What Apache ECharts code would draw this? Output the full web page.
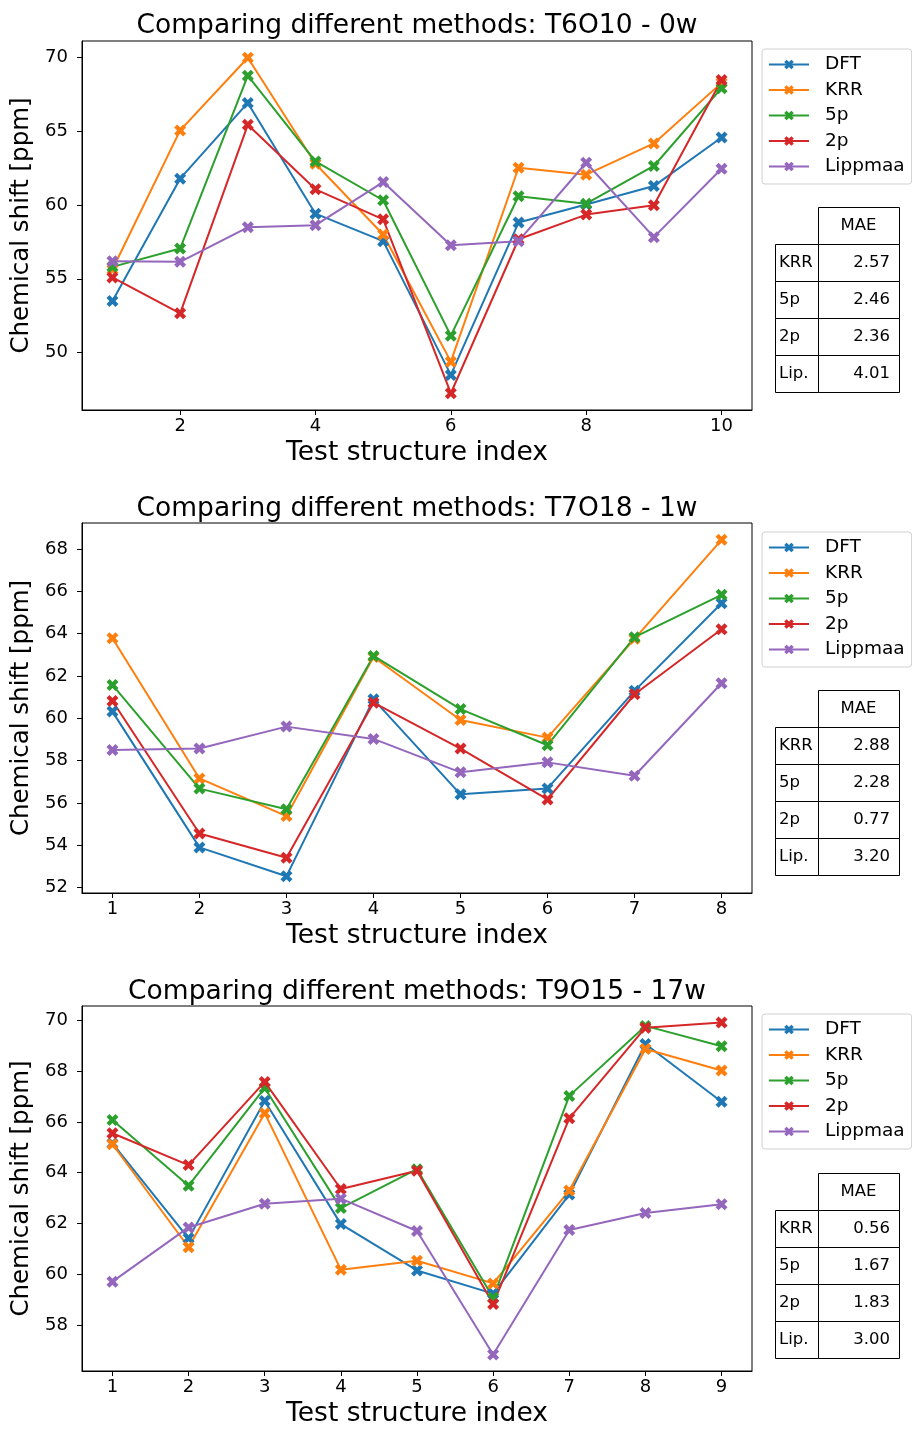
<!DOCTYPE html>
<html><head><meta charset="utf-8">
<script src="https://cdn.jsdelivr.net/npm/echarts@6/dist/echarts.min.js"></script>
<style>html,body{margin:0;padding:0;background:#fff}#c{width:912px;height:1429px}</style>
</head><body><div id="c"></div>
<script>
// ---------- data ----------
const methods = ['DFT', 'KRR', '5p', '2p', 'Lippmaa'];
const titles = [
  'Comparing different methods: T6O10 - 0w',
  'Comparing different methods: T7O18 - 1w',
  'Comparing different methods: T9O15 - 17w'
];
const xLabel = 'Test structure index';
const yLabel = 'Chemical shift [ppm]';

// Panel 1: T6O10 - 0w
const idx1 = [1, 2, 3, 4, 5, 6, 7, 8, 9, 10];
const dft1 = [53.49, 61.78, 66.91, 59.41, 57.55, 48.49, 58.81, 60.03, 61.28, 64.57];
const krr1 = [55.63, 65.05, 69.97, 62.79, 58.00, 49.39, 62.52, 62.05, 64.17, 68.27];
const p5_1 = [55.81, 57.05, 68.76, 62.95, 60.32, 51.15, 60.59, 60.09, 62.64, 67.91];
const p2_1 = [55.09, 52.66, 65.43, 61.06, 59.03, 47.25, 57.68, 59.35, 59.98, 68.47];
const lip1 = [56.19, 56.15, 58.49, 58.63, 61.55, 57.27, 57.55, 62.86, 57.82, 62.45];
const xTicks1 = [2, 4, 6, 8, 10];
const yTicks1 = [50, 55, 60, 65, 70];
const mae1 = ['2.57', '2.46', '2.36', '4.01'];

// Panel 2: T7O18 - 1w
const idx2 = [1, 2, 3, 4, 5, 6, 7, 8];
const dft2 = [60.32, 53.90, 52.54, 60.90, 56.41, 56.69, 61.30, 65.44];
const krr2 = [63.79, 57.16, 55.38, 62.90, 59.92, 59.09, 63.76, 68.44];
const p5_2 = [61.58, 56.68, 55.70, 62.95, 60.44, 58.73, 63.84, 65.84];
const p2_2 = [60.82, 54.56, 53.41, 60.74, 58.57, 56.17, 61.14, 64.21];
const lip2 = [58.50, 58.58, 59.61, 59.03, 57.45, 57.92, 57.29, 61.66];
const xTicks2 = [1, 2, 3, 4, 5, 6, 7, 8];
const yTicks2 = [52, 54, 56, 58, 60, 62, 64, 66, 68];
const mae2 = ['2.88', '2.28', '0.77', '3.20'];

// Panel 3: T9O15 - 17w
const idx3 = [1, 2, 3, 4, 5, 6, 7, 8, 9];
const dft3 = [65.15, 61.42, 66.82, 61.98, 60.16, 59.25, 63.14, 69.06, 66.79];
const krr3 = [65.12, 61.07, 66.34, 60.19, 60.54, 59.65, 63.30, 68.86, 68.02];
const p5_3 = [66.07, 63.49, 67.33, 62.61, 64.14, 59.09, 67.02, 69.77, 68.97];
const p2_3 = [65.55, 64.30, 67.57, 63.36, 64.08, 58.84, 66.14, 69.70, 69.90];
const lip3 = [59.72, 61.85, 62.78, 62.98, 61.71, 56.86, 61.75, 62.42, 62.76];
const xTicks3 = [1, 2, 3, 4, 5, 6, 7, 8, 9];
const yTicks3 = [58, 60, 62, 64, 66, 68, 70];
const mae3 = ['0.56', '1.67', '1.83', '3.00'];

const tableHeader = 'MAE';
const tableRows = ['KRR', '5p', '2p', 'Lip.'];

// ---------- styling / layout ----------
const colors = ['#1f77b4', '#ff7f0e', '#2ca02c', '#d62728', '#9467bd'];
const FONT = 'DejaVu Sans';
const xSymbol = 'path://M0,1L1,0L2,1L3,0L4,1L3,2L4,3L3,4L2,3L1,4L0,3L1,2Z';

const panels = [
  { idx: idx1, series: [dft1, krr1, p5_1, p2_1, lip1], xTicks: xTicks1, yTicks: yTicks1, mae: mae1 },
  { idx: idx2, series: [dft2, krr2, p5_2, p2_2, lip2], xTicks: xTicks2, yTicks: yTicks2, mae: mae2 },
  { idx: idx3, series: [dft3, krr3, p5_3, p2_3, lip3], xTicks: xTicks3, yTicks: yTicks3, mae: mae3 }
];
const gridTop = [41, 523, 1006];
const gridH = [369, 370, 369];
const gridLeft = 82, gridW = 670;
const titleTop = [8, 491, 974];
const legendTop = [49, 532, 1014];
const tableTop = [207, 690, 1173];

function padRange(arr) {
  const mn = Math.min(...arr), mx = Math.max(...arr);
  const m = (mx - mn) * 0.05;
  return [mn - m, mx + m];
}

const option = {
  animation: false,
  backgroundColor: '#fff',
  textStyle: { fontFamily: FONT, color: '#000' },
  title: [], grid: [], xAxis: [], yAxis: [], legend: [], series: [], graphic: []
};

panels.forEach((p, i) => {
  option.title.push({
    text: titles[i], left: gridLeft + gridW / 2 - 5, textAlign: 'center', top: titleTop[i],
    textStyle: { fontFamily: FONT, fontSize: 26.5, fontWeight: 'normal', color: '#000' }
  });
  option.grid.push({
    left: gridLeft, top: gridTop[i], width: gridW, height: gridH[i],
    show: true, borderColor: '#000', borderWidth: 1, backgroundColor: 'transparent'
  });
  const xr = padRange(p.idx);
  const yr = padRange([].concat(...p.series));
  option.xAxis.push({
    type: 'value', gridIndex: i, min: xr[0], max: xr[1],
    splitLine: { show: false },
    axisLine: { show: true, onZero: false, lineStyle: { color: '#000', width: 1 } },
    axisTick: { show: true, customValues: p.xTicks, length: 5, lineStyle: { color: '#000', width: 1 } },
    axisLabel: { customValues: p.xTicks, color: '#000', fontSize: 18, fontFamily: FONT, margin: 7 },
    name: xLabel, nameLocation: 'middle', nameGap: 30,
    nameTextStyle: { fontSize: 26.5, color: '#000', fontFamily: FONT }
  });
  option.yAxis.push({
    type: 'value', gridIndex: i, min: yr[0], max: yr[1],
    splitLine: { show: false },
    axisLine: { show: true, onZero: false, lineStyle: { color: '#000', width: 1 } },
    axisTick: { show: true, customValues: p.yTicks, length: 5, lineStyle: { color: '#000', width: 1 } },
    axisLabel: { customValues: p.yTicks, color: '#000', fontSize: 18, fontFamily: FONT, margin: 14 },
    name: yLabel, nameLocation: 'middle', nameGap: 44,
    nameTextStyle: { fontSize: 24.5, color: '#000', fontFamily: FONT }
  });
  option.legend.push({
    data: methods, orient: 'vertical', left: 762, top: legendTop[i],
    padding: [6, 7, 8, 6], itemWidth: 40, itemHeight: 12, itemGap: 6.5,
    backgroundColor: 'rgba(255,255,255,0.8)', borderColor: '#d0d0d0', borderWidth: 1, borderRadius: 3,
    textStyle: { fontSize: 18.5, color: '#000', fontFamily: FONT, padding: [0, 0, 0, 11] },
    selectedMode: false
  });
  p.series.forEach((vals, k) => {
    option.series.push({
      type: 'line', name: methods[k], xAxisIndex: i, yAxisIndex: i,
      data: p.idx.map((x, j) => [x, vals[j]]),
      symbol: xSymbol, symbolSize: 12, showSymbol: true,
      color: colors[k],
      lineStyle: { width: 2, color: colors[k] },
      itemStyle: { color: colors[k] },
      emphasis: { disabled: true }, silent: true
    });
  });
  // MAE table
  const t0 = tableTop[i], rh = 37, xL = 775, xM = 818, xR = 899;
  option.graphic.push({
    type: 'rect', shape: { x: xM + 0.5, y: t0 + 0.5, width: xR - xM, height: rh },
    style: { fill: '#fff', stroke: '#000', lineWidth: 1 }
  });
  option.graphic.push({
    type: 'text', x: (xM + xR) / 2, y: t0 + rh / 2,
    style: { text: tableHeader, fill: '#000', font: '16.5px "DejaVu Sans"', align: 'center', verticalAlign: 'middle' }
  });
  tableRows.forEach((lab, r) => {
    const y = t0 + rh * (r + 1);
    option.graphic.push({
      type: 'rect', shape: { x: xL + 0.5, y: y + 0.5, width: xM - xL, height: rh },
      style: { fill: '#fff', stroke: '#000', lineWidth: 1 }
    });
    option.graphic.push({
      type: 'rect', shape: { x: xM + 0.5, y: y + 0.5, width: xR - xM, height: rh },
      style: { fill: '#fff', stroke: '#000', lineWidth: 1 }
    });
    option.graphic.push({
      type: 'text', x: xL + 4, y: y + rh / 2,
      style: { text: lab, fill: '#000', font: '16.5px "DejaVu Sans"', align: 'left', verticalAlign: 'middle' }
    });
    option.graphic.push({
      type: 'text', x: xR - 9, y: y + rh / 2,
      style: { text: p.mae[r], fill: '#000', font: '16.5px "DejaVu Sans"', align: 'right', verticalAlign: 'middle' }
    });
  });
});

const chart = echarts.init(document.getElementById('c'), null, { renderer: 'canvas' });
chart.setOption(option);
</script>
</body></html>
